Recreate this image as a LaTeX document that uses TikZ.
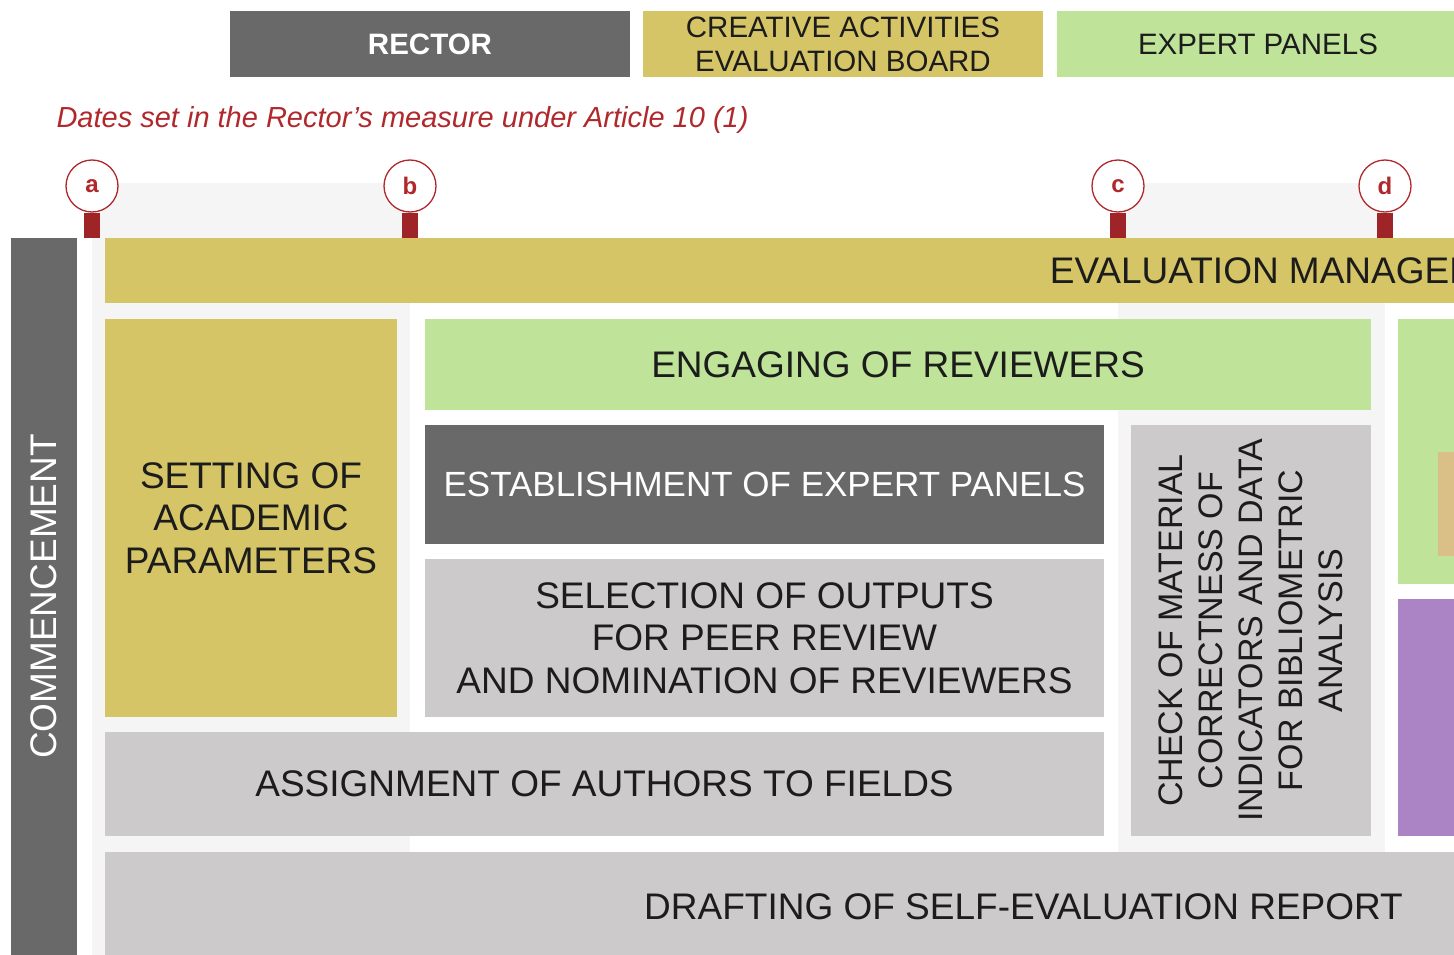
\documentclass[tikz,border=0pt]{standalone}
\usepackage{fontspec}
\setmainfont{Liberation Sans}
\usepackage{tikz}
\usetikzlibrary{positioning}

\definecolor{rectorgrey}{HTML}{666666}
\definecolor{boardgold}{HTML}{D4C463}
\definecolor{panelgreen}{HTML}{BDE297}
\definecolor{taskgrey}{HTML}{CBC9CA}
\definecolor{datered}{HTML}{B0282C}
\definecolor{othertan}{HTML}{DBBF87}
\definecolor{otherviolet}{HTML}{A882C3}
\definecolor{ink}{HTML}{1C1C1C}

\tikzset{
  box/.style={rectangle, inner sep=0pt, outer sep=0pt, align=center,
              text=ink, fill opacity=0.98, text opacity=1,
              font=\fontsize{37}{42.5}\selectfont},
  head/.style={box, minimum width=400pt, minimum height=66pt,
               font=\fontsize{29.5}{34}\selectfont},
  datemark/.style={circle, draw=datered, line width=1.3pt, fill=white,
                   minimum size=52pt, inner sep=0pt, text=datered,
                   font=\fontsize{24}{24}\selectfont\bfseries},
  stem/.style={datered!90!black, line width=16pt},
  band/.style={fill=black, opacity=0.04}
}

\begin{document}
\begin{tikzpicture}[x=1pt, y=-1pt]
    \useasboundingbox (0,0) rectangle (1454,955);
    \clip (0,0) rectangle (1454,955);

    % date windows, behind the phases
    \fill[band] (92,183) rectangle (410,955);
    \fill[band] (1118,183) rectangle (1385,955);

    % who does what
    \node[head, fill=rectorgrey, text=white, font=\fontsize{29.5}{34}\selectfont\bfseries]
        (rector) at (430,44) {RECTOR};
    \node[head, fill=boardgold] (board) at (843,44)
        {CREATIVE ACTIVITIES\\EVALUATION BOARD};
    \node[head, fill=panelgreen, minimum width=402pt] (panels) at (1258,44)
        {EXPERT PANELS};

    \node[anchor=west, text=datered, font=\fontsize{29}{33}\selectfont\itshape]
        (dates) at (53,120) {Dates set in the Rector's measure under Article 10 (1)};

    % phases
    \node[box, fill=rectorgrey, text=white, rotate=90, minimum width=717pt,
          minimum height=66pt] (start) at (44,596.5) {COMMENCEMENT};
    \node[box, fill=boardgold, minimum width=2394pt, minimum height=65pt]
        (manage) at (1302,270.5) {EVALUATION MANAGEMENT};
    \node[box, fill=boardgold, minimum width=292pt, minimum height=398pt]
        (params) at (251,518) {SETTING OF\\ACADEMIC\\PARAMETERS};
    \node[box, fill=panelgreen, minimum width=946pt, minimum height=91pt]
        (engage) at (898,364.5) {ENGAGING OF REVIEWERS};
    \node[box, fill=rectorgrey, text=white, minimum width=679pt, minimum height=119pt,
          font=\fontsize{35}{40}\selectfont] (establish) at (764.5,484.5)
        {ESTABLISHMENT OF EXPERT PANELS};
    \node[box, fill=taskgrey, minimum width=679pt, minimum height=158pt]
        (select) at (764.5,638)
        {SELECTION OF OUTPUTS\\FOR PEER REVIEW\\AND NOMINATION OF REVIEWERS};
    \node[box, fill=taskgrey, rotate=90, minimum width=411pt, minimum height=240pt,
          font=\fontsize{34}{40}\selectfont] (check) at (1251,630.5)
        {CHECK OF MATERIAL\\CORRECTNESS OF\\INDICATORS AND DATA\\FOR BIBLIOMETRIC\\ANALYSIS};
    \node[box, fill=taskgrey, minimum width=999pt, minimum height=104pt]
        (assign) at (604.5,784) {ASSIGNMENT OF AUTHORS TO FIELDS};
    \node[box, fill=taskgrey, minimum width=1837pt, minimum height=110pt]
        (report) at (1023.5,907) {DRAFTING OF SELF-EVALUATION REPORT};

    % next column, only its edge shows
    \node[box, fill=panelgreen, minimum width=102pt, minimum height=265pt]
        (review) at (1449,451.5) {};
    \node[box, fill=othertan, minimum width=62pt, minimum height=104pt]
        (reviewin) at (1469,504) {};
    \node[box, fill=otherviolet, minimum width=102pt, minimum height=237pt]
        (biblio) at (1449,717.5) {};

    % date markers
    \foreach \m/\x in {a/92, b/410, c/1118, d/1385} {
        \node[datemark] (mark\m) at (\x,186) {\m};
        \draw[stem] (mark\m.south) -- (mark\m.south |- manage.north);
    }
\end{tikzpicture}
\end{document}
